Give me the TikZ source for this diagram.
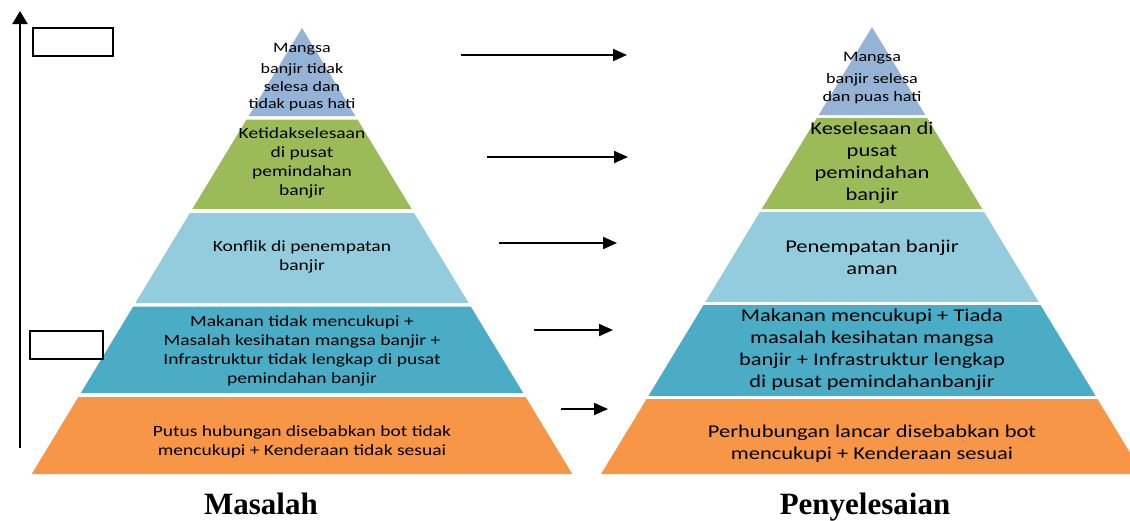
\documentclass[tikz,border=0pt]{standalone}
\usepackage{fontspec}
\setmainfont{Liberation Serif}
\newfontfamily\pyr[FakeStretch=1.25]{Carlito}
\usetikzlibrary{arrows.meta}
\definecolor{cTop}{HTML}{95B3D7}
\definecolor{cGreen}{HTML}{9BBB59}
\definecolor{cLight}{HTML}{93CDDD}
\definecolor{cTeal}{HTML}{4BACC6}
\definecolor{cOrange}{HTML}{F79646}
% band: cx, apex y, top y, bottom y, colour
\newcommand\pband[5]{%
  \fill[#5] ({#1-0.606*(#3-#2)},#3) -- ({#1+0.606*(#3-#2)},#3) -- ({#1+0.606*(#4-#2)},#4) -- ({#1-0.606*(#4-#2)},#4) -- cycle;}
\tikzset{
  lt/.style={align=center, inner sep=0pt, font=\pyr\fontsize{15.6}{19}\selectfont},
  ltop/.style={align=center, inner sep=0pt, font=\pyr\fontsize{14.4}{17.5}\selectfont},
  rt/.style={align=center, inner sep=0pt, font=\pyr\fontsize{18}{22}\selectfont},
  rtop/.style={align=center, inner sep=0pt, font=\pyr\fontsize{14.5}{18}\selectfont},
  conn/.style={line width=2pt, -{Triangle[length=14pt,width=12pt]}},
  emptybox/.style={draw, line width=1.6pt, inner sep=0pt, anchor=north west},
  title/.style={font=\bfseries\fontsize{31}{36}\selectfont, anchor=base, inner sep=0pt}
}
\begin{document}
\begin{tikzpicture}[x=1pt,y=-1pt]
\clip (0,0) rectangle (1130,520);
% left pyramid
\pband{302}{28}{28}{116}{cTop}
\pband{302}{28}{119.5}{209}{cGreen}
\pband{302}{28}{213}{303}{cLight}
\pband{302}{28}{306.5}{393}{cTeal}
\pband{302}{28}{397}{474}{cOrange}
% right pyramid
\pband{872}{27}{27}{115}{cTop}
\pband{872}{27}{118}{209}{cGreen}
\pband{872}{27}{212}{302}{cLight}
\pband{872}{27}{305}{396}{cTeal}
\pband{872}{27}{399}{474}{cOrange}
% left texts
\node[ltop] (l1) at (302,77) {Mangsa\\[4pt]banjir tidak\\selesa dan\\tidak puas hati};
\node[lt] (l2) at (302,163) {Ketidakselesaan\\di pusat\\pemindahan\\banjir};
\node[lt] (l3) at (302,257) {Konflik di penempatan\\banjir};
\node[lt] (l4) at (302,351) {Makanan tidak mencukupi +\\Masalah kesihatan mangsa banjir +\\Infrastruktur tidak lengkap di pusat\\pemindahan banjir};
\node[lt] (l5) at (302,442) {Putus hubungan disebabkan bot tidak\\mencukupi + Kenderaan tidak sesuai};
% right texts
\node[rtop] (r1) at (872,78) {Mangsa\\[4pt]banjir selesa\\dan puas hati};
\node[rt] (r2) at (872,163) {Keselesaan di\\pusat\\pemindahan\\banjir};
\node[rt] (r3) at (872,257) {Penempatan banjir\\aman};
\node[rt] (r4) at (872,350) {Makanan mencukupi + Tiada\\masalah kesihatan mangsa\\banjir + Infrastruktur lengkap\\di pusat pemindahanbanjir};
\node[rt] (r5) at (872,444) {Perhubungan lancar disebabkan bot\\mencukupi + Kenderaan sesuai};
% arrows
\coordinate (a1s) at (461,55); \coordinate (a1e) at (627,55);
\coordinate (a2s) at (487,157); \coordinate (a2e) at (628,157);
\coordinate (a3s) at (499,243); \coordinate (a3e) at (617,243);
\coordinate (a4s) at (534,330); \coordinate (a4e) at (613,330);
\coordinate (a5s) at (561,409); \coordinate (a5e) at (608,409);
\draw[conn] (a1s) -- (a1e);
\draw[conn] (a2s) -- (a2e);
\draw[conn] (a3s) -- (a3e);
\draw[conn] (a4s) -- (a4e);
\draw[conn] (a5s) -- (a5e);
% vertical axis
\coordinate (vb) at (20,448); \coordinate (vt) at (20,11);
\draw[line width=2pt, -{Triangle[length=13pt,width=15pt]}] (vb) -- (vt);
% empty boxes
\node[emptybox, minimum width=80pt, minimum height=28pt] (b1) at (32,27) {};
\node[emptybox, minimum width=73pt, minimum height=28pt] (b2) at (29,330) {};
% titles
\node[title] (tm) at (261,514) {Masalah};
\node[title] (tp) at (865,514) {Penyelesaian};
\end{tikzpicture}
\end{document}
